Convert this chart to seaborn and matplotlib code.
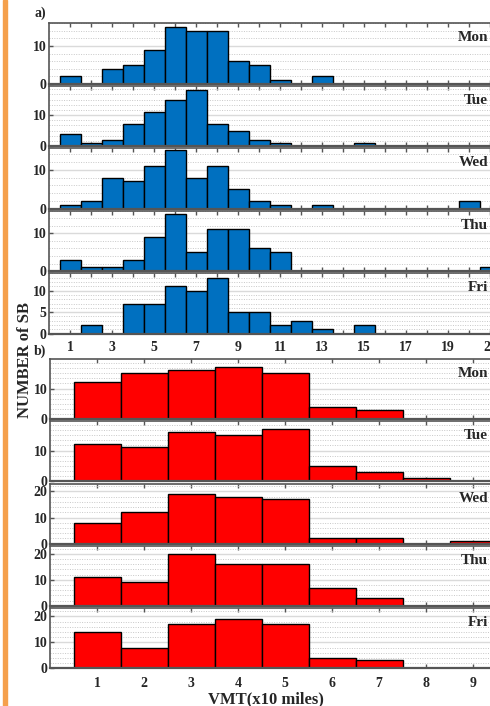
import numpy as np
import pandas as pd
import matplotlib.pyplot as plt
import seaborn as sns
from matplotlib.patches import Rectangle
from matplotlib.ticker import MultipleLocator, FixedLocator

sns.set_style('white')
plt.rcParams['font.family'] = ['Liberation Serif', 'DejaVu Serif']
plt.rcParams['font.weight'] = 'bold'

days = ['Mon', 'Tue', 'Wed', 'Thu', 'Fri']

# a) bins 1..21
bins_a = list(range(1, 22))
mon_a = [2, 0, 4, 5, 9, 15, 14, 14, 6, 5, 1, 0, 2, 0, 0, 0, 0, 0, 0, 0, 0]
tue_a = [4, 1, 2, 7, 11, 15, 18, 7, 5, 2, 1, 0, 0, 0, 1, 0, 0, 0, 0, 0, 0]
wed_a = [1, 2, 8, 7, 11, 15, 8, 11, 5, 2, 1, 0, 1, 0, 0, 0, 0, 0, 0, 2, 0]
thu_a = [3, 1, 1, 3, 9, 15, 5, 11, 11, 6, 5, 0, 0, 0, 0, 0, 0, 0, 0, 0, 1]
fri_a = [0, 2, 0, 7, 7, 11, 10, 13, 5, 5, 2, 3, 1, 0, 2, 0, 0, 0, 0, 0, 0]

# b) bins 1..9
bins_b = list(range(1, 10))
mon_b = [12, 15, 16, 17, 15, 4, 3, 0, 0]
tue_b = [12, 11, 16, 15, 17, 5, 3, 1, 0]
wed_b = [8, 12, 19, 18, 17, 2, 2, 0, 1]
thu_b = [11, 9, 20, 16, 16, 7, 3, 0, 0]
fri_b = [14, 8, 17, 19, 17, 4, 3, 0, 0]

# axis settings per panel (ylim top, major step, minor step)
ytop_a = [16.1, 19.5, 15.6, 16, 14.1]
ymaj_a = [10, 10, 10, 10, 5]
ymin_a = [2, 10 / 6, 2, 2, 1]
ytop_b = [19.7, 19.5, 23, 23, 23.2]
ymaj_b = [10, 10, 10, 10, 10]
ymin_b = [10 / 6, 10 / 6, 2, 2, 2]

W, H = 490, 706
fig = plt.figure(figsize=(W / 100, H / 100), dpi=100)

# orange page stripe on the left
fig.add_artist(Rectangle((2.5 / W, 0), 4.5 / W, 1, transform=fig.transFigure,
                         color='#f5a04c', zorder=0))

spine_col = '#555555'


def style_axis(ax, xmax, ytop, ymaj, ymin, day, xpad):
    ax.set_xlim(0, xmax)
    ax.set_ylim(0, ytop)
    ax.yaxis.set_major_locator(MultipleLocator(ymaj))
    ax.yaxis.set_minor_locator(MultipleLocator(ymin))
    ax.grid(axis='y', which='major', color='#dadada', linewidth=1.0, linestyle='-')
    ax.grid(axis='y', which='minor', color='#c8c8c8', linewidth=0.7, linestyle=(0, (1, 1.5)))
    ax.grid(axis='x', visible=False)
    ax.set_axisbelow(True)
    for s in ['left', 'top', 'bottom']:
        ax.spines[s].set_color(spine_col)
        ax.spines[s].set_linewidth(1.2)
    ax.spines['bottom'].set_linewidth(1.6)
    ax.spines['right'].set_visible(False)
    ax.tick_params(axis='x', which='major', direction='in', length=3, width=1,
                   color=spine_col, top=True, bottom=True, labelsize=10, pad=xpad)
    ax.tick_params(axis='y', which='major', direction='in', length=3, width=1,
                   color=spine_col, left=True, labelsize=10, pad=2)
    ax.tick_params(axis='y', which='minor', left=False)
    ax.set_xlabel('')
    ax.set_ylabel('')
    ax.text(0.996, 0.76, day, transform=ax.transAxes, ha='right', va='center',
            fontsize=11, fontweight='bold')


# panel a
data_a = [mon_a, tue_a, wed_a, thu_a, fri_a]
tops_a = [23, 85.5, 148, 210.5, 273]
h_a = 60.7
for i, day in enumerate(days):
    ax = fig.add_axes([49 / W, 1 - (tops_a[i] + h_a) / H, 441 / W, h_a / H])
    sns.histplot(x=bins_a, weights=data_a[i], discrete=True, color='#0070c0',
                 edgecolor='black', linewidth=1, alpha=1, ax=ax)
    style_axis(ax, 21, ytop_a[i], ymaj_a[i], ymin_a[i], day, 5)
    ax.xaxis.set_major_locator(FixedLocator(bins_a))
    if i == len(days) - 1:
        ax.set_xticklabels([str(b) if b % 2 == 1 else '' for b in bins_a])
    else:
        ax.set_xticklabels([])

# panel b
data_b = [mon_b, tue_b, wed_b, thu_b, fri_b]
tops_b = [359, 421.3, 483.6, 545.9, 608.2]
h_b = 60
for i, day in enumerate(days):
    ax = fig.add_axes([50 / W, 1 - (tops_b[i] + h_b) / H, 440 / W, h_b / H])
    sns.histplot(x=bins_b, weights=data_b[i], discrete=True, color='#ff0000',
                 edgecolor='black', linewidth=1, alpha=1, ax=ax)
    style_axis(ax, 440 / 47, ytop_b[i], ymaj_b[i], ymin_b[i], day, 6)
    ax.xaxis.set_major_locator(FixedLocator(bins_b))
    if i == len(days) - 1:
        ax.set_xticklabels([str(b) for b in bins_b])
    else:
        ax.set_xticklabels([])

fig.text(40 / W, 1 - 13 / H, 'a)', ha='center', va='center', fontsize=10, fontweight='bold')
fig.text(40 / W, 1 - 351 / H, 'b)', ha='center', va='center', fontsize=10, fontweight='bold')
fig.text(25 / W, 1 - 360 / H, 'NUMBER of SB', rotation=90, ha='center', va='center',
         fontsize=12, fontweight='bold')
fig.text(266 / W, 1 - 699 / H, 'VMT(x10 miles)', ha='center', va='center',
         fontsize=12, fontweight='bold')

plt.savefig('out.png', dpi=100)
